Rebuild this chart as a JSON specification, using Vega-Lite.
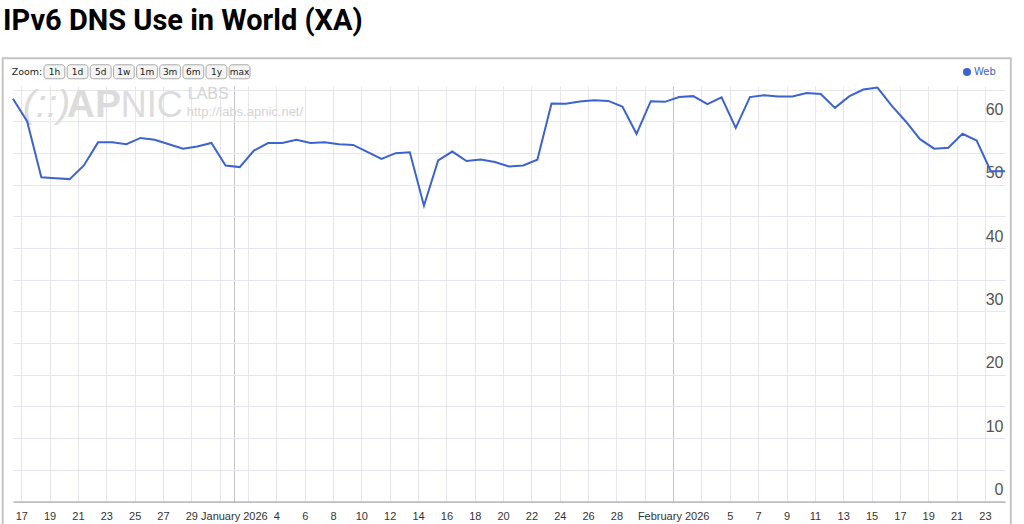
{
  "$schema": "https://vega.github.io/schema/vega-lite/v6.json",
  "width": 992,
  "height": 415.5,
  "autosize": {"type": "none"},
  "padding": {"left": 13, "top": 86, "right": 19, "bottom": 22.5},
  "background": "white",
  "title": {"text": "IPv6 DNS Use in World (XA)", "anchor": "start", "frame": "group", "dx": -10, "offset": -2, "baseline": "alphabetic", "font": "Roboto", "fontSize": 29, "fontWeight": "bold", "color": "#000000"},
  "config": {
    "view": {"stroke": null},
    "axis": {"grid": true, "labelOverlap": false, "labelFlush": false},
    "axisX": {"labelOverlap": false, "grid": true, "gridColor": "#e6e6ee"},
    "axisY": {"labelOverlap": false, "grid": true, "gridColor": "#e6e6ee"}
  },
  "layer": [
    {
      "layer": [
        {
          "data": {"values": [{}]},
          "mark": {"type": "rect", "fill": "white", "fillOpacity": 0, "stroke": "#c4c4c4", "strokeWidth": 2, "clip": false},
          "encoding": {
            "x": {"datum": {"year": 2025, "month": 12, "date": 15, "hours": 16, "minutes": 33}, "type": "temporal"},
            "x2": {"datum": {"year": 2026, "month": 2, "date": 24, "hours": 19, "minutes": 50}},
            "y": {"datum": 70, "type": "quantitative"},
            "y2": {"datum": -5}
          }
        },
        {
          "data": {"values": [{}]},
          "mark": {"type": "text", "text": "(::)", "align": "left", "baseline": "alphabetic", "font": "Liberation Sans", "fontSize": 39, "fontStyle": "italic", "color": "#dcdcdc"},
          "encoding": {
            "x": {"datum": {"year": 2025, "month": 12, "date": 17, "hours": 2, "minutes": 26}, "type": "temporal"},
            "y": {"datum": 60.74, "type": "quantitative"}
          }
        },
        {
          "data": {"values": [{}]},
          "mark": {"type": "text", "text": "AP", "align": "left", "baseline": "alphabetic", "font": "Liberation Sans", "fontSize": 39, "fontWeight": "bold", "color": "#dcdcdc"},
          "encoding": {
            "x": {"datum": {"year": 2025, "month": 12, "date": 20, "hours": 4, "minutes": 58}, "type": "temporal"},
            "y": {"datum": 60.74, "type": "quantitative"}
          }
        },
        {
          "data": {"values": [{}]},
          "mark": {"type": "text", "text": "NIC", "align": "left", "baseline": "alphabetic", "font": "Liberation Sans", "fontSize": 36, "color": "#dcdcdc"},
          "encoding": {
            "x": {"datum": {"year": 2025, "month": 12, "date": 24, "hours": 0, "minutes": 24}, "type": "temporal"},
            "y": {"datum": 60.74, "type": "quantitative"}
          }
        },
        {
          "data": {"values": [{}]},
          "mark": {"type": "text", "text": "LABS", "align": "left", "baseline": "alphabetic", "font": "Liberation Sans", "fontSize": 16, "color": "#d4d4d4"},
          "encoding": {
            "x": {"datum": {"year": 2025, "month": 12, "date": 28, "hours": 17, "minutes": 55}, "type": "temporal"},
            "y": {"datum": 63.5, "type": "quantitative"}
          }
        },
        {
          "data": {"values": [{}]},
          "mark": {"type": "text", "text": "http://labs.apnic.net/", "align": "left", "baseline": "alphabetic", "font": "Liberation Sans", "fontSize": 13, "color": "#d4d4d4"},
          "encoding": {
            "x": {"datum": {"year": 2025, "month": 12, "date": 28, "hours": 16, "minutes": 14}, "type": "temporal"},
            "y": {"datum": 60.9, "type": "quantitative"}
          }
        },
        {
          "data": {"values": [{}]},
          "mark": {"type": "text", "text": "Zoom:", "align": "left", "baseline": "middle", "font": "DejaVu Sans", "fontSize": 9.5, "color": "#222222"},
          "encoding": {
            "x": {"datum": {"year": 2025, "month": 12, "date": 16, "hours": 7, "minutes": 48}, "type": "temporal"},
            "y": {"datum": 67.85, "type": "quantitative"}
          }
        },
        {
          "data": {"values": [
            {"date": "2025-12-16T10:00", "value": 63.6},
            {"date": "2025-12-17T10:00", "value": 60.0},
            {"date": "2025-12-18T10:00", "value": 51.2},
            {"date": "2025-12-19T10:00", "value": 51.05},
            {"date": "2025-12-20T10:00", "value": 50.9},
            {"date": "2025-12-21T10:00", "value": 53.05},
            {"date": "2025-12-22T10:00", "value": 56.7},
            {"date": "2025-12-23T10:00", "value": 56.7},
            {"date": "2025-12-24T10:00", "value": 56.4},
            {"date": "2025-12-25T10:00", "value": 57.4},
            {"date": "2025-12-26T10:00", "value": 57.1},
            {"date": "2025-12-27T10:00", "value": 56.4},
            {"date": "2025-12-28T10:00", "value": 55.7},
            {"date": "2025-12-29T10:00", "value": 56.05},
            {"date": "2025-12-30T10:00", "value": 56.6},
            {"date": "2025-12-31T10:00", "value": 53.05},
            {"date": "2026-01-01T10:00", "value": 52.8},
            {"date": "2026-01-02T10:00", "value": 55.4},
            {"date": "2026-01-03T10:00", "value": 56.6},
            {"date": "2026-01-04T10:00", "value": 56.6},
            {"date": "2026-01-05T10:00", "value": 57.1},
            {"date": "2026-01-06T10:00", "value": 56.6},
            {"date": "2026-01-07T10:00", "value": 56.7},
            {"date": "2026-01-08T10:00", "value": 56.4},
            {"date": "2026-01-09T10:00", "value": 56.3},
            {"date": "2026-01-10T10:00", "value": 55.2},
            {"date": "2026-01-11T10:00", "value": 54.1},
            {"date": "2026-01-12T10:00", "value": 55.0},
            {"date": "2026-01-13T10:00", "value": 55.15},
            {"date": "2026-01-14T10:00", "value": 46.7},
            {"date": "2026-01-15T10:00", "value": 53.85},
            {"date": "2026-01-16T10:00", "value": 55.25},
            {"date": "2026-01-17T10:00", "value": 53.75},
            {"date": "2026-01-18T10:00", "value": 54.0},
            {"date": "2026-01-19T10:00", "value": 53.6},
            {"date": "2026-01-20T10:00", "value": 52.9},
            {"date": "2026-01-21T10:00", "value": 53.05},
            {"date": "2026-01-22T10:00", "value": 53.95},
            {"date": "2026-01-23T10:00", "value": 62.85},
            {"date": "2026-01-24T10:00", "value": 62.8},
            {"date": "2026-01-25T10:00", "value": 63.15},
            {"date": "2026-01-26T10:00", "value": 63.35},
            {"date": "2026-01-27T10:00", "value": 63.25},
            {"date": "2026-01-28T10:00", "value": 62.35},
            {"date": "2026-01-29T10:00", "value": 58.05},
            {"date": "2026-01-30T10:00", "value": 63.2},
            {"date": "2026-01-31T10:00", "value": 63.1},
            {"date": "2026-02-01T10:00", "value": 63.85},
            {"date": "2026-02-02T10:00", "value": 64.0},
            {"date": "2026-02-03T10:00", "value": 62.75},
            {"date": "2026-02-04T10:00", "value": 63.8},
            {"date": "2026-02-05T10:00", "value": 59.0},
            {"date": "2026-02-06T10:00", "value": 63.85},
            {"date": "2026-02-07T10:00", "value": 64.15},
            {"date": "2026-02-08T10:00", "value": 63.95},
            {"date": "2026-02-09T10:00", "value": 63.95},
            {"date": "2026-02-10T10:00", "value": 64.5},
            {"date": "2026-02-11T10:00", "value": 64.35},
            {"date": "2026-02-12T10:00", "value": 62.15},
            {"date": "2026-02-13T10:00", "value": 63.95},
            {"date": "2026-02-14T10:00", "value": 65.05},
            {"date": "2026-02-15T10:00", "value": 65.35},
            {"date": "2026-02-16T10:00", "value": 62.5},
            {"date": "2026-02-17T10:00", "value": 60.0},
            {"date": "2026-02-18T10:00", "value": 57.2},
            {"date": "2026-02-19T10:00", "value": 55.7},
            {"date": "2026-02-20T10:00", "value": 55.85},
            {"date": "2026-02-21T10:00", "value": 58.05},
            {"date": "2026-02-22T10:00", "value": 57.0},
            {"date": "2026-02-23T10:00", "value": 52.15},
            {"date": "2026-02-24T10:00", "value": 52.15}
          ]},
          "mark": {"type": "line", "strokeWidth": 2, "interpolate": "linear"},
          "encoding": {
            "x": {
              "field": "date", "type": "temporal",
              "scale": {"domain": [{"year": 2025, "month": 12, "date": 16, "hours": 10}, {"year": 2026, "month": 2, "date": 24, "hours": 10}], "nice": false},
              "axis": {
                "title": null,
                "grid": true,
                "tickCount": 200,
                "values": [
                  {"year": 2025, "month": 12, "date": 17}, {"year": 2025, "month": 12, "date": 19}, {"year": 2025, "month": 12, "date": 21}, {"year": 2025, "month": 12, "date": 23},
                  {"year": 2025, "month": 12, "date": 25}, {"year": 2025, "month": 12, "date": 27}, {"year": 2025, "month": 12, "date": 29}, {"year": 2025, "month": 12, "date": 31},
                  {"year": 2026, "month": 1, "date": 1},
                  {"year": 2026, "month": 1, "date": 2}, {"year": 2026, "month": 1, "date": 4}, {"year": 2026, "month": 1, "date": 6}, {"year": 2026, "month": 1, "date": 8},
                  {"year": 2026, "month": 1, "date": 10}, {"year": 2026, "month": 1, "date": 12}, {"year": 2026, "month": 1, "date": 14}, {"year": 2026, "month": 1, "date": 16},
                  {"year": 2026, "month": 1, "date": 18}, {"year": 2026, "month": 1, "date": 20}, {"year": 2026, "month": 1, "date": 22}, {"year": 2026, "month": 1, "date": 24},
                  {"year": 2026, "month": 1, "date": 26}, {"year": 2026, "month": 1, "date": 28}, {"year": 2026, "month": 1, "date": 30},
                  {"year": 2026, "month": 2, "date": 1},
                  {"year": 2026, "month": 2, "date": 3}, {"year": 2026, "month": 2, "date": 5}, {"year": 2026, "month": 2, "date": 7}, {"year": 2026, "month": 2, "date": 9},
                  {"year": 2026, "month": 2, "date": 11}, {"year": 2026, "month": 2, "date": 13}, {"year": 2026, "month": 2, "date": 15}, {"year": 2026, "month": 2, "date": 17},
                  {"year": 2026, "month": 2, "date": 19}, {"year": 2026, "month": 2, "date": 21}, {"year": 2026, "month": 2, "date": 23}
                ],
                "labelExpr": "date(datum.value) == 1 ? timeFormat(datum.value, '%B %Y') : (((month(datum.value) == 11 && date(datum.value) == 31) || (month(datum.value) == 0 && (date(datum.value) == 2 || date(datum.value) == 30)) || (month(datum.value) == 1 && date(datum.value) == 3)) ? '' : timeFormat(datum.value, '%-d'))",
                "labelOverlap": false,
                "labelFlush": false,
                "labelFont": "Liberation Sans",
                "labelFontSize": 11,
                "labelColor": "#333333",
                "labelAlign": "center",
                "labelBaseline": "top",
                "labelPadding": 9,
                "ticks": false,
                "tickSize": 0,
                "domainColor": "#999999",
                "domainWidth": 1,
                "gridColor": {"condition": {"test": "date(datum.value) == 1", "value": "#c4c4c4"}, "value": "#e6e6ee"},
                "gridWidth": 1
              }
            },
            "y": {
              "field": "value", "type": "quantitative",
              "scale": {"domain": [0, 65.6], "nice": false, "zero": true},
              "axis": {
                "orient": "right",
                "title": null,
                "grid": true,
                "tickCount": 100,
                "format": "d",
                "values": [0, 5, 10, 15, 20, 25, 30, 35, 40, 45, 50, 55, 60, 65],
                "labelExpr": "datum.value % 10 == 0 ? format(datum.value, 'd') : ''",
                "labelOverlap": false,
                "domain": false,
                "ticks": false,
                "tickSize": 0,
                "labelAlign": "right",
                "labelPadding": -2,
                "labelBaseline": "middle",
                "labelOffset": -12,
                "labelFont": "Liberation Sans",
                "labelFontSize": 16,
                "labelColor": "#555555",
                "gridColor": "#e6e6ee",
                "gridWidth": 1
              }
            },
            "color": {
              "datum": "Web", "type": "nominal",
              "scale": {"range": ["#3d63d0"]},
              "legend": {
                "title": null, "orient": "none", "legendX": 949, "legendY": -19, "padding": 0,
                "symbolType": "circle", "symbolSize": 64, "labelFont": "DejaVu Sans", "labelFontSize": 10, "labelColor": "#3d63d0", "labelOffset": 2,
                "encode": {"symbols": {"update": {"fill": {"value": "#3d63d0"}, "stroke": {"value": "#3d63d0"}, "strokeWidth": {"value": 0}, "shape": {"value": "circle"}}}}
              }
            }
          }
        }
      ]
    },
    {
      "data": {"values": [{"label": "1h"}, {"label": "1d"}, {"label": "5d"}, {"label": "1w"}, {"label": "1m"}, {"label": "3m"}, {"label": "6m"}, {"label": "1y"}, {"label": "max"}]},
      "encoding": {
        "x": {"field": "label", "type": "nominal", "sort": null, "axis": null,
              "scale": {"type": "band", "domain": ["1h", "1d", "5d", "1w", "1m", "3m", "6m", "1y", "max"], "range": [31, 237], "paddingInner": 0.1, "paddingOuter": 0}}
      },
      "layer": [
        {
          "mark": {"type": "rect", "cornerRadius": 3, "fill": "#f4f4f4", "stroke": "#a9a9a9", "strokeWidth": 1, "clip": false},
          "encoding": {"y": {"datum": 68.95, "type": "quantitative"}, "y2": {"datum": 66.74}}
        },
        {
          "mark": {"type": "text", "font": "DejaVu Sans", "fontSize": 9, "color": "#222222", "baseline": "middle", "align": "center"},
          "encoding": {"y": {"datum": 67.85, "type": "quantitative"}, "text": {"field": "label"}}
        }
      ]
    }
  ],
  "resolve": {"scale": {"x": "independent"}}
}
